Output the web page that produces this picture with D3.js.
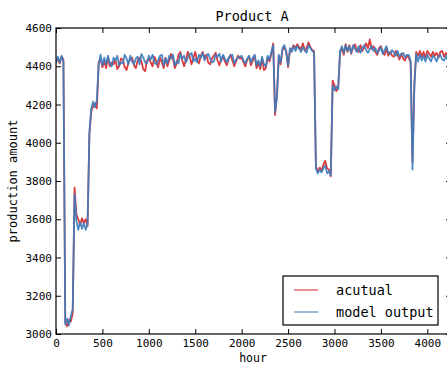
<!DOCTYPE html>
<html>
<head>
<meta charset="utf-8">
<script src="https://cdn.jsdelivr.net/npm/d3@7"></script>
<style>
  body { margin: 0; background: #fff; }
  svg { display: block; }
  text { font-family: "DejaVu Sans Mono", monospace; fill: #000; }
</style>
</head>
<body>
<div id="chart"></div>
<script>
// samples are taken every 20 hours starting at hour 0
const sampleStep = 20;

const modelOutput = [
  4415, 4450, 4420, 4455, 4425, 3050, 3080, 3045, 3095, 3130,
  3730, 3590, 3545, 3585, 3550, 3580, 3545, 3575, 4060, 4180,
  4215, 4185, 4225, 4410, 4460, 4405, 4445, 4410, 4455, 4415,
  4400, 4445, 4430, 4455, 4405, 4420, 4415, 4460, 4440, 4410,
  4455, 4425, 4410, 4440, 4450, 4410, 4465, 4445, 4420, 4415,
  4455, 4435, 4460, 4420, 4410, 4430, 4455, 4460, 4405, 4440,
  4415, 4455, 4440, 4460, 4405, 4425, 4415, 4465, 4440, 4455,
  4420, 4445, 4460, 4470, 4425, 4440, 4420, 4460, 4445, 4470,
  4430, 4455, 4465, 4440, 4420, 4425, 4460, 4450, 4465, 4425,
  4460, 4440, 4420, 4445, 4455, 4460, 4415, 4435, 4445, 4450,
  4455, 4430, 4415, 4440, 4455, 4420, 4445, 4460, 4405, 4430,
  4400, 4450, 4410, 4400, 4455, 4435, 4475, 4510, 4160, 4240,
  4460, 4420, 4495, 4510, 4470, 4405, 4495, 4475, 4505, 4480,
  4505, 4490, 4475, 4500, 4485, 4470, 4510, 4495, 4480, 4470,
  3865, 3840, 3860, 3845, 3865, 3880, 3840, 3850, 3830, 4300,
  4275, 4295, 4280, 4480, 4505, 4470, 4510, 4480, 4505, 4470,
  4510, 4490, 4475, 4505, 4470, 4495, 4510, 4485, 4470, 4490,
  4505, 4480, 4495, 4470, 4480, 4500, 4465, 4485, 4505, 4470,
  4465, 4485, 4470, 4455, 4480, 4450, 4465, 4470, 4445, 4460,
  4460, 4430, 3860, 4290, 4465, 4425, 4460, 4430, 4455, 4425,
  4460, 4440, 4425, 4455, 4445, 4425, 4450, 4460, 4435, 4430,
  4455, 4430, 4450
];

const actual = [
  4430, 4440, 4415, 4450, 4435, 3060, 3040, 3075, 3065, 3110,
  3765, 3625, 3600, 3570, 3605, 3580, 3600, 3565, 4045, 4165,
  4190, 4205, 4180, 4420, 4440, 4395, 4425, 4390, 4445, 4400,
  4420, 4410, 4435, 4385, 4400, 4440, 4435, 4395, 4380, 4420,
  4435, 4445, 4405, 4390, 4430, 4445, 4425, 4385, 4375, 4430,
  4440, 4420, 4400, 4450, 4425, 4395, 4445, 4420, 4390, 4445,
  4400, 4430, 4465, 4440, 4390, 4415, 4460, 4475, 4430, 4400,
  4435, 4475, 4450, 4410, 4445, 4475, 4430, 4415, 4455, 4475,
  4445, 4460, 4420, 4410, 4440, 4455, 4470, 4430, 4405, 4440,
  4450, 4425, 4405, 4440, 4460, 4430, 4400, 4425, 4455, 4440,
  4445, 4420, 4400, 4435, 4450, 4405, 4430, 4455, 4390, 4420,
  4385, 4440, 4380, 4390, 4445, 4425, 4465, 4520, 4145, 4250,
  4450, 4410, 4485, 4500, 4480, 4395, 4480, 4490, 4510, 4495,
  4515, 4500, 4490, 4520, 4480, 4495, 4525, 4500, 4485, 4480,
  3875, 3850, 3870, 3855, 3885, 3905, 3865, 3860, 3825, 4325,
  4300, 4270, 4290, 4470, 4495, 4460, 4515, 4475, 4510, 4465,
  4500, 4515, 4485, 4475, 4510, 4480, 4500, 4520, 4495, 4540,
  4490, 4505, 4475, 4460, 4495, 4505, 4470, 4460, 4490, 4455,
  4475, 4455, 4450, 4480, 4460, 4435, 4465, 4440, 4430, 4455,
  4445, 4420, 3900, 4305, 4475, 4455, 4480, 4450, 4475, 4445,
  4480, 4465, 4450, 4475, 4455, 4470, 4445, 4475, 4480, 4450,
  4470, 4455, 4475
];

const xTicks = [0, 500, 1000, 1500, 2000, 2500, 3000, 3500, 4000];
const yTicks = [3000, 3200, 3400, 3600, 3800, 4000, 4200, 4400, 4600];
const seriesNames = ['acutual', 'model output'];
const seriesColors = ['#d8262a', '#3a7dbe'];

const width = 447, height = 367;
const margin = { top: 28, right: -4, bottom: 33, left: 56 };
const plotW = width - margin.left - margin.right;
const plotH = height - margin.top - margin.bottom;

const svg = d3.select('#chart').append('svg')
  .attr('width', width)
  .attr('height', height);

const x = d3.scaleLinear().domain([0, 4255]).range([0, plotW]);
const y = d3.scaleLinear().domain([3000, 4600]).range([plotH, 0]);

const g = svg.append('g')
  .attr('transform', `translate(${margin.left},${margin.top})`);

g.append('clipPath').attr('id', 'plot-clip')
  .append('rect').attr('width', plotW).attr('height', plotH);

const line = d3.line()
  .x((d, i) => x(i * sampleStep))
  .y(d => y(d));

const lines = g.append('g').attr('clip-path', 'url(#plot-clip)');
[actual, modelOutput].forEach((values, k) => {
  lines.append('path')
    .datum(values)
    .attr('d', line)
    .attr('fill', 'none')
    .attr('stroke', seriesColors[k])
    .attr('stroke-opacity', 0.9)
    .attr('stroke-width', 1.8)
    .attr('stroke-linejoin', 'round');
});

// axes, ticks pointing inward on every side
const tickLen = 5;
const fmt = d3.format('d');
g.append('g')
  .attr('transform', `translate(0,${plotH})`)
  .call(d3.axisBottom(x).tickValues(xTicks).tickSizeInner(-tickLen).tickSizeOuter(0).tickPadding(5).tickFormat(fmt));
g.append('g')
  .call(d3.axisTop(x).tickValues(xTicks).tickSizeInner(-tickLen).tickSizeOuter(0).tickFormat(''));
g.append('g')
  .call(d3.axisLeft(y).tickValues(yTicks).tickSizeInner(-tickLen).tickSizeOuter(0).tickPadding(4).tickFormat(fmt));
g.append('g')
  .attr('transform', `translate(${plotW},0)`)
  .call(d3.axisRight(y).tickValues(yTicks).tickSizeInner(-tickLen).tickSizeOuter(0).tickFormat(''));

g.selectAll('.domain').remove();
g.selectAll('.tick line').attr('stroke', '#000').attr('stroke-width', 1);
g.selectAll('.tick text').style('font-size', '11px');

g.append('rect')
  .attr('width', plotW)
  .attr('height', plotH)
  .attr('fill', 'none')
  .attr('stroke', '#000')
  .attr('stroke-width', 1.2);

// labels
svg.append('text')
  .attr('x', margin.left + 196)
  .attr('y', 21)
  .attr('text-anchor', 'middle')
  .style('font-size', '13.5px')
  .text('Product A');

svg.append('text')
  .attr('x', 253)
  .attr('y', 362)
  .attr('text-anchor', 'middle')
  .style('font-size', '11.5px')
  .text('hour');

svg.append('text')
  .attr('transform', `translate(17,${margin.top + plotH / 2}) rotate(-90)`)
  .attr('text-anchor', 'middle')
  .style('font-size', '12px')
  .text('production amount');

// legend
const legend = svg.append('g').attr('transform', 'translate(283,276)');
legend.append('rect')
  .attr('width', 155)
  .attr('height', 49)
  .attr('fill', '#fff')
  .attr('stroke', '#000')
  .attr('stroke-width', 1.2);

seriesNames.forEach((name, i) => {
  const row = legend.append('g').attr('transform', `translate(0,${14 + i * 22})`);
  row.append('line')
    .attr('x1', 11).attr('x2', 35)
    .attr('stroke', seriesColors[i])
    .attr('stroke-opacity', 0.7)
    .attr('stroke-width', 1.5);
  row.append('text')
    .attr('x', 53)
    .attr('y', 5)
    .style('font-size', '13.5px')
    .text(name);
});
</script>
</body>
</html>
